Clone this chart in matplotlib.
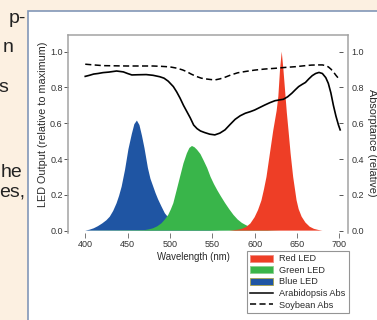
import matplotlib
matplotlib.use("Agg")
import matplotlib.pyplot as plt
from matplotlib.patches import Rectangle, Patch
from matplotlib.lines import Line2D

plt.rcParams['font.family'] = ['Liberation Sans', 'DejaVu Sans']

# ---------------- data ----------------
blue_wl = [400, 405, 410, 415, 420, 425, 429, 433, 437, 440, 443, 447, 451, 455, 458, 461,
           464, 467, 470, 474, 477, 480, 483, 486, 490, 494, 499, 504, 510, 515, 520, 530,
           540, 550, 560, 580, 700]
blue_led = [0, 0.005, 0.013, 0.025, 0.04, 0.058, 0.078, 0.11, 0.153, 0.195, 0.246, 0.34,
            0.455, 0.54, 0.595, 0.615, 0.59, 0.53, 0.46, 0.35, 0.29, 0.25, 0.21, 0.175,
            0.135, 0.097, 0.068, 0.05, 0.035, 0.027, 0.021, 0.012, 0.006, 0.003, 0.001, 0, 0]

green_wl = [400, 470, 475, 480, 485, 490, 494, 498, 501, 504, 508, 512, 516, 520, 523, 526,
            529, 532, 536, 540, 544, 548, 552, 556, 560, 565, 570, 575, 580, 585, 590, 595,
            600, 610, 620, 630, 700]
green_led = [0, 0.003, 0.007, 0.013, 0.024, 0.041, 0.062, 0.088, 0.118, 0.153, 0.227, 0.302,
             0.376, 0.432, 0.462, 0.473, 0.466, 0.452, 0.428, 0.39, 0.35, 0.30, 0.26, 0.225,
             0.193, 0.155, 0.12, 0.088, 0.062, 0.043, 0.03, 0.02, 0.012, 0.005, 0.002, 0, 0]

red_wl = [400, 570, 580, 585, 590, 595, 600, 604, 608, 611, 614, 618, 622, 626, 628, 630, 632,
          634, 636.5, 638, 640, 642.5, 645.5, 649.5, 652, 655.5, 660, 665, 670, 675, 680, 700]
red_led = [0, 0, 0.005, 0.01, 0.02, 0.04, 0.075, 0.115, 0.168, 0.23, 0.30, 0.43, 0.56, 0.67,
           0.75, 0.9, 1.0, 0.9, 0.75, 0.66, 0.56, 0.43, 0.30, 0.17, 0.12, 0.078, 0.045, 0.022,
           0.01, 0.004, 0, 0]

arab_wl = [400, 405, 410, 415, 421, 428, 437, 445, 450, 455, 462, 472, 480, 488, 493, 498,
           504, 508, 512, 516, 520, 524, 528, 532, 536, 541, 547, 553, 559, 565, 571, 577,
           583, 589, 595, 600, 606, 612, 618, 624, 630, 634, 639, 644, 648, 652, 656, 660,
           664, 668, 672, 676, 680, 684, 687, 690, 693, 696, 699, 701]
arab_abs = [0.862, 0.868, 0.875, 0.878, 0.883, 0.886, 0.892, 0.887, 0.878, 0.870, 0.871,
            0.872, 0.868, 0.860, 0.852, 0.835, 0.805, 0.775, 0.74, 0.70, 0.665, 0.63, 0.59,
            0.57, 0.557, 0.548, 0.539, 0.535, 0.545, 0.563, 0.593, 0.622, 0.642, 0.656,
            0.665, 0.674, 0.688, 0.702, 0.715, 0.726, 0.731, 0.734, 0.748, 0.768, 0.787,
            0.805, 0.817, 0.828, 0.848, 0.866, 0.878, 0.884, 0.878, 0.855, 0.823, 0.77,
            0.70, 0.64, 0.59, 0.563]

soy_wl = [400, 405, 410, 421, 435, 449, 465, 480, 490, 500, 508, 515, 520, 525, 531, 537,
          542, 547, 553, 559, 565, 572, 580, 590, 600, 612, 624, 636, 648, 658, 667, 675,
          680, 684, 687, 690, 693, 696, 699]
soy_abs = [0.930, 0.928, 0.926, 0.922, 0.921, 0.920, 0.920, 0.920, 0.918, 0.915, 0.908,
           0.898, 0.888, 0.875, 0.862, 0.852, 0.848, 0.845, 0.842, 0.848, 0.857, 0.870,
           0.882, 0.890, 0.897, 0.903, 0.907, 0.912, 0.916, 0.921, 0.925, 0.926, 0.926,
           0.922, 0.915, 0.903, 0.887, 0.868, 0.851]

xticks = [400, 450, 500, 550, 600, 650, 700]
yticks = [0.0, 0.2, 0.4, 0.6, 0.8, 1.0]

side_text = [("p-", 26.5, 23.0), ("n", 13.5, 52.0), ("s", 8.5, 92.0), ("he", 22.0, 177.0),
             ("es,", 25.5, 196.5)]

RED, GREEN, BLUE = '#ee3e26', '#39b54a', '#1f55a3'
SPINE = '#a3a3a3'
TXT = '#2a2a2a'

# ---------------- figure ----------------
W, H = 377, 320
fig = plt.figure(figsize=(W / 100, H / 100), dpi=100, facecolor='#fcf0e1')

# white panel with blue-grey border (top and left edges visible)
fig.patches.append(Rectangle((28.0 / W, -0.2), 1.5, (H - 11.0) / H + 0.2,
                             transform=fig.transFigure, facecolor='white',
                             edgecolor='#8297b7', linewidth=1.2, zorder=-5))

for s, xr, yb in side_text:
    fig.text(xr / W, 1 - yb / H, s, ha='right', va='baseline', fontsize=14, color='#222222')

ax_l, ax_r = 68.3 / W, 348.3 / W
ax_b, ax_t = 1 - 232.5 / H, 1 - 34.5 / H
ax = fig.add_axes([ax_l, ax_b, ax_r - ax_l, ax_t - ax_b])
ax.set_facecolor('none')

ax.fill_between(blue_wl, blue_led, 0, facecolor=BLUE, edgecolor='none', linewidth=0, zorder=2)
ax.fill_between(green_wl, green_led, 0, facecolor=GREEN, edgecolor='none', linewidth=0, zorder=3)
ax.fill_between(red_wl, red_led, 0, facecolor=RED, edgecolor='none', linewidth=0, zorder=4)

ax.set_xlim(380, 710.6)
ax.set_ylim(-0.0105, 1.096)
ax.set_xticks(xticks)
ax.set_xticklabels([str(t) for t in xticks])
ax.set_yticks(yticks)
ax.set_yticklabels(['%.1f' % t for t in yticks])

for sp in ['left', 'top', 'right']:
    ax.spines[sp].set_color(SPINE)
    ax.spines[sp].set_linewidth(1.1)
ax.spines['bottom'].set_visible(False)
ax.tick_params(axis='y', direction='out', length=2.8, width=0.7, color='#555555',
               pad=1.2, labelsize=6.5, labelcolor='#333333', right=False)
ax.tick_params(axis='x', direction='out', length=3.6, width=0.7, color='#777777',
               pad=1.5, labelsize=6.5, labelcolor='#333333', top=False)

ax.set_xlabel('Wavelength (nm)', fontsize=6.9, color=TXT, va='center', ha='center')
ax.xaxis.set_label_coords(0.4475, -0.126)
ax.set_ylabel('LED Output (relative to maximum)', fontsize=7.8, color=TXT, va='center', ha='center')
ax.yaxis.set_label_coords(-0.089, 0.547)

ax2 = ax.twinx()
ax2.set_ylim(ax.get_ylim())
ax2.plot(arab_wl, arab_abs, color='black', linewidth=1.2, zorder=5)
ax2.plot(soy_wl, soy_abs, color='black', linewidth=1.1, dashes=(4.0, 2.2), zorder=5)
for sp in ['left', 'top', 'bottom']:
    ax2.spines[sp].set_visible(False)
ax2.spines['right'].set_position(('data', 700))
ax2.spines['right'].set_color('none')
ax2.set_yticks(yticks)
ax2.set_yticklabels(['%.1f' % t for t in yticks])
ax2.tick_params(axis='y', direction='out', length=3.0, width=0.7, color='#555555',
                pad=6.0, labelsize=6.5, labelcolor='#333333')
ax2.set_ylabel('Absorptance (relative)', rotation=-90, fontsize=7.8, color=TXT,
               va='center', ha='center')
ax2.yaxis.set_label_coords(1.0836, 0.452)

handles = [Patch(facecolor=RED, edgecolor='#f08a80', linewidth=0.6),
           Patch(facecolor=GREEN, edgecolor='#8ccf8f', linewidth=0.6),
           Patch(facecolor=BLUE, edgecolor='#a9a24a', linewidth=0.6),
           Line2D([], [], color='black', linewidth=1.1),
           Line2D([], [], color='black', linewidth=1.1, dashes=(4.0, 2.2))]
labels = ['Red LED', 'Green LED', 'Blue LED', 'Arabidopsis Abs', 'Soybean Abs']
leg = fig.legend(handles, labels, loc='upper left', bbox_to_anchor=(246.7 / W, 1 - 250.7 / H),
                 bbox_transform=fig.transFigure, fontsize=6.6, frameon=True, fancybox=False,
                 borderpad=0.4, labelspacing=0.28, handlelength=2.5, handleheight=0.75,
                 handletextpad=0.6, borderaxespad=0)
leg.get_frame().set_edgecolor('#7a7a7a')
leg.get_frame().set_linewidth(0.8)
for t in leg.get_texts():
    t.set_color(TXT)

fig.savefig('out.png', dpi=100, facecolor=fig.get_facecolor())
